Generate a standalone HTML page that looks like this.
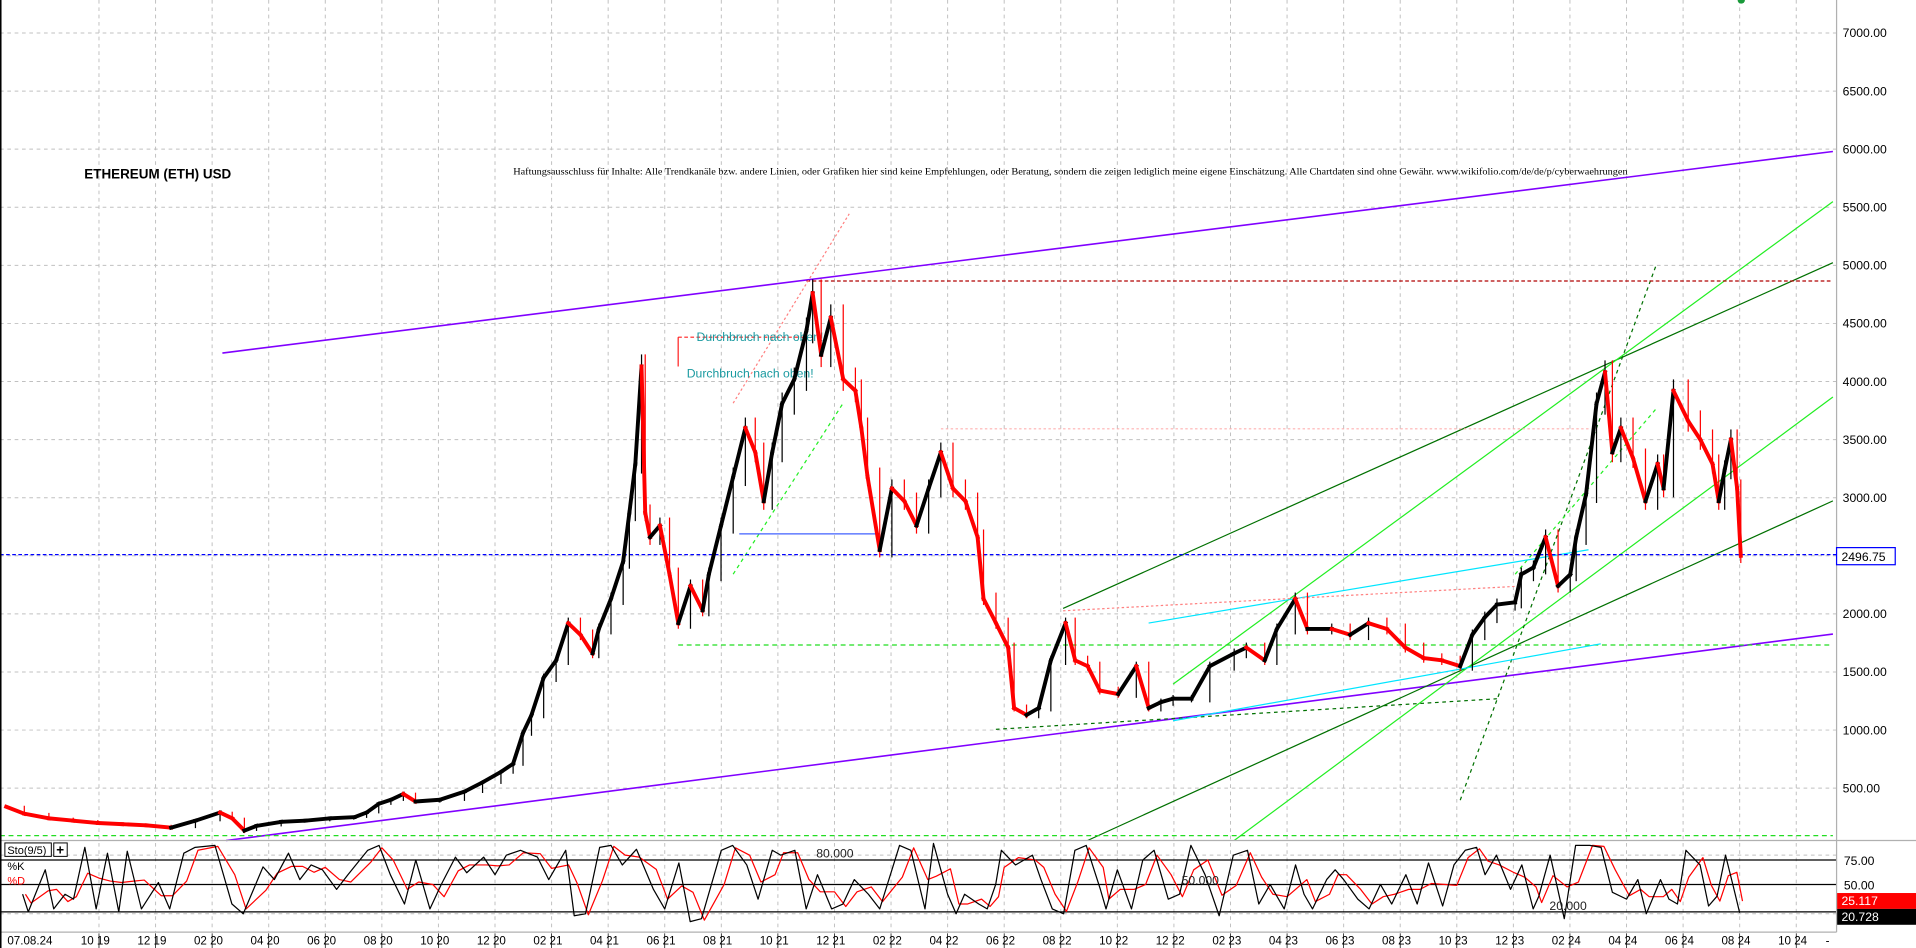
<!DOCTYPE html>
<html><head><meta charset="utf-8"><title>ETH chart</title>
<style>
html,body{margin:0;padding:0;background:#fff;width:1916px;height:948px;overflow:hidden}
svg{display:block}
text{font-family:"Liberation Sans",sans-serif}
</style></head>
<body>
<svg id="chart" width="1916" height="948" viewBox="0 0 1568 776" preserveAspectRatio="none" xmlns="http://www.w3.org/2000/svg">
<rect x="0" y="0" width="1568" height="776" fill="#fff"/>
<g id="grid"></g>
<g id="annot">
  <line x1="182" y1="289" x2="1500" y2="124" stroke="#8000ff" stroke-width="1.3"/>
  <line x1="185" y1="688" x2="1500" y2="519" stroke="#8000ff" stroke-width="1.3"/>
  <line x1="870" y1="498" x2="1500" y2="215" stroke="#007000" stroke-width="1"/>
  <line x1="890" y1="688" x2="1500" y2="410" stroke="#007000" stroke-width="1"/>
  <line x1="960" y1="560" x2="1500" y2="165" stroke="#22ee22" stroke-width="1"/>
  <line x1="1010" y1="688" x2="1500" y2="325" stroke="#22ee22" stroke-width="1"/>
  <line x1="1195" y1="655" x2="1355" y2="218" stroke="#007000" stroke-width="1" stroke-dasharray="3,3"/>
  <line x1="600" y1="470" x2="690" y2="330" stroke="#22ee22" stroke-width="1" stroke-dasharray="3,3"/>
  <line x1="1240" y1="470" x2="1355" y2="335" stroke="#22ee22" stroke-width="1" stroke-dasharray="3,3"/>
  <line x1="555" y1="528" x2="1500" y2="528" stroke="#22dd22" stroke-width="1" stroke-dasharray="4,3"/>
  <line x1="0" y1="684" x2="1500" y2="684" stroke="#22dd22" stroke-width="1" stroke-dasharray="4,3"/>
  <line x1="815" y1="597" x2="1225" y2="572" stroke="#007000" stroke-width="1" stroke-dasharray="3,3"/>
  <line x1="940" y1="510" x2="1300" y2="450" stroke="#00e5ff" stroke-width="1"/>
  <line x1="960" y1="590" x2="1310" y2="527" stroke="#00e5ff" stroke-width="1"/>
  <line x1="555" y1="276" x2="660" y2="276" stroke="#ff2020" stroke-width="1" stroke-dasharray="3,2"/>
  <line x1="555" y1="276" x2="555" y2="300" stroke="#ff2020" stroke-width="1"/>
  <line x1="660" y1="230" x2="1500" y2="230" stroke="#b00000" stroke-width="1" stroke-dasharray="3,2"/>
  <line x1="600" y1="330" x2="695" y2="175" stroke="#ff8080" stroke-width="1" stroke-dasharray="2,2"/>
  <line x1="870" y1="500" x2="1240" y2="480" stroke="#ff8080" stroke-width="1" stroke-dasharray="2,2"/>
  <line x1="770" y1="351" x2="1300" y2="351" stroke="#ffb0b0" stroke-width="1" stroke-dasharray="2,2"/>
  <line x1="605" y1="437" x2="720" y2="437" stroke="#4060ff" stroke-width="1"/>
  <line x1="0" y1="454" x2="1503" y2="454" stroke="#0000ff" stroke-width="1" stroke-dasharray="3,2"/>
  <text x="570" y="279" font-size="10" fill="#1a9aa0">Durchbruch nach oben!</text>
  <text x="562" y="309" font-size="10" fill="#1a9aa0">Durchbruch nach oben!</text>
</g>
<g id="candles"></g>
<g id="stoch"></g>
<g id="axes"></g>
<text x="69" y="146" font-size="11" font-weight="bold" fill="#000">ETHEREUM (ETH) USD</text>
<text x="420" y="143" font-size="8" fill="#000" textLength="912" lengthAdjust="spacingAndGlyphs" style="font-family:'Liberation Serif',serif">Haftungsausschluss für Inhalte: Alle Trendkanäle bzw. andere Linien, oder Grafiken hier sind keine Empfehlungen, oder Beratung, sondern die zeigen lediglich meine eigene Einschätzung. Alle Chartdaten sind ohne Gewähr. www.wikifolio.com/de/de/p/cyberwaehrungen</text>
<circle cx="1425" cy="0" r="3" fill="#1a9a3a"/>
</svg>
<script>
// price data: month offset since Oct 2019 and close price (USD)
const priceMonths=[-3.28,-2.64,-1.77,-0.91,-0.04,0.82,1.68,2.55,3.41,4.28,4.71,5.14,5.57,6.44,7.30,8.16,9.03,9.46,9.89,10.32,10.76,11.19,12.05,12.92,13.56,14.21,14.64,14.99,15.29,15.72,16.16,16.59,17.02,17.45,17.67,18.10,18.53,18.75,18.96,19.18,19.31,19.48,19.83,20.17,20.48,20.91,21.34,21.56,21.99,22.42,22.85,23.20,23.50,23.80,24.15,24.58,25.01,25.23,25.53,25.87,26.31,26.74,26.95,27.17,27.60,28.03,28.47,28.90,29.33,29.76,30.19,30.63,31.06,31.27,31.71,32.14,32.35,32.79,33.22,33.65,34.17,34.51,34.95,35.38,36.03,36.67,37.11,37.54,37.97,38.62,39.27,40.13,40.56,41.21,41.64,42.29,42.72,43.58,44.23,44.88,45.53,46.18,46.83,47.47,48.12,48.55,48.99,49.42,50.06,50.28,50.71,51.14,51.58,52.01,52.22,52.57,52.94,53.24,53.50,53.80,54.23,54.67,55.10,55.31,55.66,56.18,56.61,57.04,57.26,57.47,57.69,57.91,58.04];
const pricesClose=[340,280,240,220,200,190,180,160,220,290,240,135,175,210,220,240,250,290,365,400,450,385,400,470,550,640,710,975,1130,1450,1600,1920,1820,1660,1870,2130,2450,2870,3290,4130,2870,2660,2760,2340,1920,2240,2030,2340,2760,3180,3600,3390,2970,3390,3810,4020,4440,4760,4230,4550,4020,3920,3600,3180,2550,3080,2970,2760,3080,3390,3080,2970,2660,2130,1920,1710,1190,1130,1190,1600,1920,1600,1550,1340,1310,1550,1190,1240,1270,1270,1550,1660,1710,1600,1870,2130,1870,1870,1820,1920,1870,1710,1620,1600,1550,1820,1970,2080,2100,2340,2400,2660,2240,2340,2660,3030,3810,4080,3390,3600,3340,2970,3290,3080,3920,3660,3500,3290,2970,3240,3500,3080,2500];
// stochastic %K values
const stochMonths=[-2.7,-2.5,-1.9,-1.6,-1.2,-0.9,-0.5,-0.1,0.3,0.7,1.0,1.5,2.1,2.5,3.0,3.4,4.1,4.7,5.1,5.8,6.2,6.7,7.1,7.5,7.9,8.4,8.8,9.5,9.9,10.3,10.8,11.2,11.7,12.1,12.6,13.0,13.6,14.0,14.4,14.9,15.5,15.9,16.5,16.8,17.2,17.7,18.1,18.5,19.0,19.6,20.0,20.5,20.9,21.3,22.0,22.4,22.9,23.3,23.8,24.1,24.6,25.0,25.4,25.9,26.3,26.7,27.2,27.6,28.3,28.7,29.2,29.5,30.0,30.3,30.6,31.1,31.4,31.7,31.9,32.4,33.0,33.3,33.7,34.1,34.5,34.9,35.4,35.6,36.0,36.5,36.9,37.3,37.8,38.2,38.6,39.1,39.6,40.1,40.6,41.0,41.4,41.9,42.3,42.6,42.9,43.4,43.7,44.0,44.5,44.9,45.3,45.7,46.2,46.6,47.0,47.5,47.9,48.3,48.7,49.0,49.4,49.9,50.3,50.7,50.9,51.3,51.8,52.2,52.7,53.1,53.5,54.0,54.4,54.7,55.2,55.5,55.8,56.1,56.6,56.9,57.2,57.5,57.8,58.0];
const stochK=[40,22,65,25,40,35,88,25,82,22,84,25,52,25,82,88,90,30,20,68,55,82,55,70,65,45,60,85,90,60,30,75,25,50,78,62,78,60,80,85,78,55,85,18,20,88,90,70,86,45,25,72,12,15,85,90,70,35,85,80,85,25,60,25,30,55,40,25,90,85,25,92,40,20,40,30,25,50,85,70,80,55,25,20,85,90,45,25,65,25,75,85,35,40,90,60,18,80,85,30,50,25,70,40,25,55,65,55,35,25,50,30,60,30,72,28,70,85,88,60,80,45,70,25,38,80,15,90,90,88,42,35,55,20,55,35,30,85,70,28,38,80,45,21];
// axis tick labels
const priceTicks=[500,1000,1500,2000,2500,3000,3500,4000,4500,5000,5500,6000,6500,7000];
const dateLabels=["10|19","12|19","02|20","04|20","06|20","08|20","10|20","12|20","02|21","04|21","06|21","08|21","10|21","12|21","02|22","04|22","06|22","08|22","10|22","12|22","02|23","04|23","06|23","08|23","10|23","12|23","02|24","04|24","06|24","08|24","10|24"];
const stochLevels=[75,50];
const lastPrice=2496.75, lastK=20.728, lastD=25.117;

const NS="http://www.w3.org/2000/svg";
function xOf(m){return 81+23.15*m;}
function yOf(p){return 27+(7000-p)*0.0951;}
function ySt(v){return 764-0.8*v;}
function mk(tag,attrs,parent){const e=document.createElementNS(NS,tag);for(const k in attrs)e.setAttribute(k,attrs[k]);parent.appendChild(e);return e;}
const grid=document.getElementById('grid'),axes=document.getElementById('axes'),cg=document.getElementById('candles'),sg=document.getElementById('stoch');

priceTicks.forEach(p=>{
  const l=mk('line',{x1:0,x2:1503,y1:yOf(p),y2:yOf(p),stroke:'#c0c0c0','stroke-dasharray':'3,3','stroke-width':0.8},grid);
  
  
  const t=mk('text',{x:1508,y:yOf(p)+3.5,'font-size':10,fill:'#000'},axes);
  t.textContent=p.toFixed(2);
  
  
});
dateLabels.forEach((s,i)=>{
  const x=xOf(i*2);
  const l=mk('line',{x1:x,x2:x,y1:0,y2:763,stroke:'#c0c0c0','stroke-dasharray':'3,3','stroke-width':0.8},grid);
  
  
  const t=mk('text',{x:x-3,y:773,'font-size':9.5,fill:'#000','text-anchor':'middle'},axes);
  t.textContent=s.replace('|',' ');
  
  
  const tk=mk('line',{x1:x,x2:x,y1:764,y2:776,stroke:'#000','stroke-width':0.6},axes);
  
  
});
{const t=mk('text',{x:6,y:773,'font-size':9.5,fill:'#000'},axes);t.textContent='07.08.24';


const d=mk('text',{x:1494,y:773,'font-size':9.5,fill:'#000'},axes);d.textContent='-';

}

[['line',{x1:1503,x2:1503,y1:0,y2:763,stroke:'#b0b0b0','stroke-width':1},'price-axis-line'],
 ['line',{x1:0,x2:1568,y1:688,y2:688,stroke:'#b0b0b0','stroke-width':1},'panel-separator'],
 ['line',{x1:0,x2:1503,y1:763,y2:763,stroke:'#b0b0b0','stroke-width':1},'date-axis-line'],
 ['line',{x1:0.5,x2:0.5,y1:0,y2:776,stroke:'#000','stroke-width':1.5},'left-border']].forEach(a=>{
  const e=mk(a[0],a[1],axes);
  
  
});

for(let i=1;i<pricesClose.length;i++){
  const o=pricesClose[i-1],c=pricesClose[i];
  const x0=xOf(priceMonths[i-1]),x1=xOf(priceMonths[i]);
  const col=c>=o?'#000':'#ff0000';
  const seg=mk('line',{x1:x0,y1:yOf(o),x2:x1,y2:yOf(c),stroke:col,'stroke-width':3.2,'stroke-linecap':'square'},cg);
  
  
  const hi=Math.max(o,c)*1.025,lo=Math.min(o,c)*0.975;
  const w=mk('line',{x1:x1,x2:x1,y1:yOf(hi),y2:yOf(lo),stroke:col,'stroke-width':1},cg);
  
  
}
{const r=mk('rect',{x:1503,y:yOf(lastPrice)-7,width:48,height:14,fill:'#fff',stroke:'#0000ff','stroke-width':1},axes);


const t=mk('text',{x:1507,y:yOf(lastPrice)+4,'font-size':10,fill:'#000'},axes);t.textContent=lastPrice.toFixed(2);

}

[80,20].forEach(v=>{const l=mk('line',{x1:0,x2:1503,y1:ySt(v),y2:ySt(v),stroke:'#c0c0c0','stroke-dasharray':'3,3','stroke-width':0.8},sg);

});
[75,50,22].forEach(v=>{const l=mk('line',{x1:0,x2:1503,y1:ySt(v),y2:ySt(v),stroke:'#000','stroke-width':1},sg);

});
stochLevels.forEach(v=>{const t=mk('text',{x:1509,y:ySt(v)+4,'font-size':10,fill:'#000'},sg);t.textContent=v.toFixed(2);

});
const stochD=stochK.map((v,i)=>{const a=stochK.slice(Math.max(0,i-1),i+1);return a.reduce((s,x)=>s+x,0)/a.length;});
function pts(arr,offs){return arr.map((v,i)=>xOf(stochMonths[i]+offs)+','+ySt(v)).join(' ');}
{const d=mk('polyline',{points:pts(stochD,0.1),fill:'none',stroke:'#ff0000','stroke-width':1,'stroke-linejoin':'round'},sg);


const k=mk('polyline',{points:pts(stochK,0),fill:'none',stroke:'#000','stroke-width':1,'stroke-linejoin':'round'},sg);

}
[['80.000',668,702,'stoch-80-label'],['50.000',967,724,'stoch-50-label'],['20.000',1268,745,'stoch-20-label']].forEach(a=>{
  const t=mk('text',{x:a[1],y:a[2],'font-size':10,fill:'#222'},sg);t.textContent=a[0];
  
  
});
{const r1=mk('rect',{x:1503,y:731,width:65,height:13,fill:'#ff0000'},sg);


const t1=mk('text',{x:1507,y:741,'font-size':10,fill:'#fff'},sg);t1.textContent=lastD.toFixed(3);


const r2=mk('rect',{x:1503,y:744,width:65,height:13,fill:'#000'},sg);


const t2=mk('text',{x:1507,y:754,'font-size':10,fill:'#fff'},sg);t2.textContent=lastK.toFixed(3);

}
{const b=mk('rect',{x:4,y:690,width:38,height:11,fill:'#fff',stroke:'#000','stroke-width':0.8},sg);


const t=mk('text',{x:6,y:699,'font-size':9,fill:'#000'},sg);t.textContent='Sto(9/5)';


const pb=mk('rect',{x:44,y:690,width:11,height:11,fill:'#fff',stroke:'#000','stroke-width':0.8},sg);


const pt=mk('text',{x:46,y:699.5,'font-size':11,'font-weight':'bold',fill:'#000'},sg);pt.textContent='+';


const k=mk('text',{x:6,y:712,'font-size':9,fill:'#000'},sg);k.textContent='%K';


const d=mk('text',{x:6,y:724,'font-size':9,fill:'#ff0000'},sg);d.textContent='%D';

}
</script>
</body></html>
